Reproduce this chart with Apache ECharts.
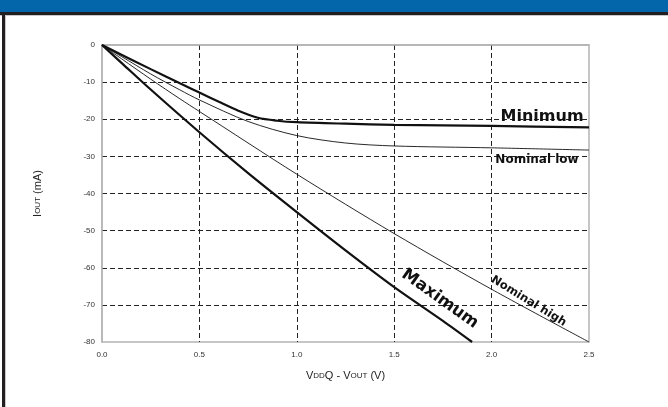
<!DOCTYPE html>
<html>
<head>
<meta charset="utf-8">
<script src="https://cdn.jsdelivr.net/npm/echarts@6/dist/echarts.min.js"></script>
<style>
html,body{margin:0;padding:0;background:#fff;}
#wrap{position:relative;width:668px;height:407px;overflow:hidden;background:#fff;}
#chart{position:absolute;left:0;top:0;width:668px;height:407px;}
#band{position:absolute;left:0;top:0;width:668px;height:12px;background:#0466aa;}
#bandline{position:absolute;left:0;top:12px;width:668px;height:3px;background:#231f20;}
#bandline2{position:absolute;left:0;top:15px;width:668px;height:1px;background:#c8c8c8;}
#lborder{position:absolute;left:2px;top:12px;width:3px;height:395px;background:#231f20;}
#lborder2{position:absolute;left:5px;top:15px;width:1px;height:392px;background:#c8c8c8;}
</style>
</head>
<body>
<div id="wrap">
<div id="chart"></div>
<div id="band"></div>
<div id="bandline"></div>
<div id="bandline2"></div>
<div id="lborder"></div>
<div id="lborder2"></div>
</div>
<script>
// Data (V, mA)
const xTicks = [0, 0.5, 1.0, 1.5, 2.0, 2.5];
const yTicks = [0, -10, -20, -30, -40, -50, -60, -70, -80];

const minimum = [[0,0],[0.1,-2.6],[0.25,-6.5],[0.4,-10.3],[0.5,-12.8],[0.6,-15.3],[0.7,-17.7],[0.8,-19.6],[0.9,-20.4],[1.0,-20.8],[1.25,-21.2],[1.5,-21.5],[2.0,-21.8],[2.5,-22.2]];
const nominalLow = [[0,0],[0.1,-3.1],[0.25,-7.8],[0.4,-12.1],[0.5,-14.8],[0.75,-20.6],[1.0,-24.4],[1.25,-26.4],[1.5,-27.2],[2.0,-27.7],[2.5,-28.3]];
const nominalHigh = [[0,0],[0.1,-3.7],[0.25,-9.2],[0.4,-14.5],[0.5,-17.9],[1.0,-34.8],[1.5,-50.8],[2.0,-65.8],[2.5,-80]];
const maximum = [[0,0],[0.1,-4.8],[0.25,-12],[0.5,-23.5],[0.75,-34.5],[1.0,-45],[1.25,-55.3],[1.5,-65.2],[1.75,-74.3],[1.9,-80]];

const labelsInfo = [
  {name:'Minimum', coord:[2.259,-19.4], size:16, rotate:0},
  {name:'Nominal low', coord:[2.233,-31.0], size:12, rotate:0},
  {name:'Maximum', coord:[1.735,-68.4], size:16.5, rotate:-35.5},
  {name:'Nominal high', coord:[2.19,-69.0], size:11.5, rotate:-31.6}
];

function mp(i){
  const l = labelsInfo[i];
  return {
    symbol:'circle', symbolSize:1, silent:true,
    itemStyle:{color:'rgba(0,0,0,0)'},
    data:[{coord:l.coord, value:l.name}],
    label:{show:true, formatter:l.name, position:'inside', rotate:l.rotate,
      fontFamily:'DejaVu Sans, sans-serif', fontWeight:'bold', fontSize:l.size, color:'#111'}
  };
}

const chart = echarts.init(document.getElementById('chart'), null, {renderer:'canvas'});
const axisFont = {fontFamily:'Liberation Sans, Arial, sans-serif', fontSize:8, color:'#333'};
chart.setOption({
  animation:false,
  backgroundColor:'transparent',
  grid:{left:102, right:79, top:45, bottom:65, show:true, borderColor:'#b4b4b4', borderWidth:1.5, backgroundColor:'transparent'},
  xAxis:{
    type:'value', min:0, max:2.5, interval:0.5,
    axisLine:{show:true, lineStyle:{color:'#b4b4b4', width:1.5}},
    axisTick:{show:false},
    axisLabel:Object.assign({margin:9, formatter:v=>v.toFixed(1)}, axisFont),
    splitLine:{show:true, showMinLine:false, showMaxLine:false, lineStyle:{color:'#222', type:[5,3], width:1}},
    name:'{b|V}{s|DD}{b|Q - V}{s|OUT}{b| (V)}', nameLocation:'middle', nameGap:28,
    nameTextStyle:{rich:{b:{fontFamily:'Liberation Sans, Arial, sans-serif', fontSize:11, color:'#222'}, s:{fontFamily:'Liberation Sans, Arial, sans-serif', fontSize:8, color:'#222', verticalAlign:'bottom', padding:[0,0,1,0]}}}
  },
  yAxis:{
    type:'value', min:-80, max:0, interval:10,
    axisLine:{show:true, lineStyle:{color:'#b4b4b4', width:1.5}},
    axisTick:{show:false},
    axisLabel:Object.assign({margin:7}, axisFont),
    splitLine:{show:true, showMinLine:false, showMaxLine:false, lineStyle:{color:'#222', type:[5,3], width:1}},
    name:'{b|I}{s|OUT}{b| (mA)}', nameLocation:'middle', nameGap:59, nameRotate:90,
    nameTextStyle:{rich:{b:{fontFamily:'Liberation Sans, Arial, sans-serif', fontSize:11, color:'#222'}, s:{fontFamily:'Liberation Sans, Arial, sans-serif', fontSize:8, color:'#222'}}}
  },
  series:[
    {name:'Minimum', type:'line', data:minimum, smooth:0.3, symbol:'none', lineStyle:{color:'#111', width:2.2}, markPoint:mp(0)},
    {name:'Nominal low', type:'line', data:nominalLow, smooth:0.3, symbol:'none', lineStyle:{color:'#111', width:0.9}, markPoint:mp(1)},
    {name:'Nominal high', type:'line', data:nominalHigh, smooth:0.3, symbol:'none', lineStyle:{color:'#111', width:0.9}, markPoint:mp(3)},
    {name:'Maximum', type:'line', data:maximum, smooth:0.3, symbol:'none', lineStyle:{color:'#111', width:2.2}, markPoint:mp(2)}
  ]
});
</script>
</body>
</html>
